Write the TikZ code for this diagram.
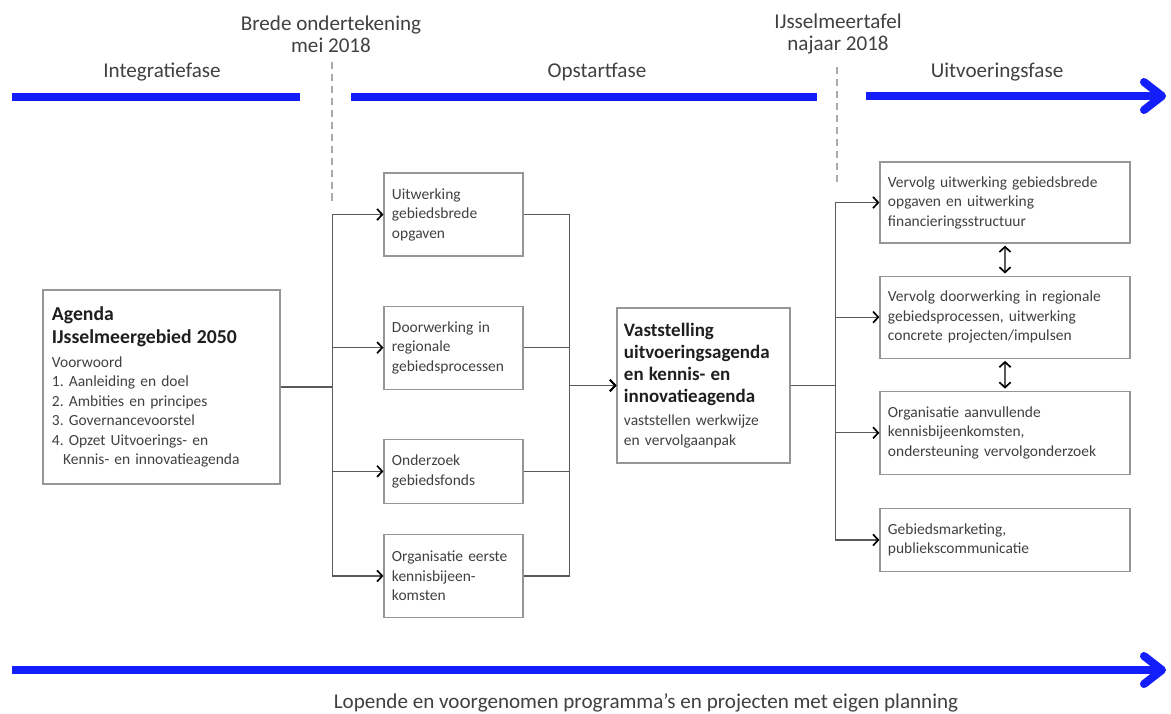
\documentclass[tikz,border=0pt]{standalone}
\usepackage{fontspec}
\setmainfont{Carlito}
\usetikzlibrary{arrows.meta,positioning}
\frenchspacing

\definecolor{phaseblue}{RGB}{20,30,250}
\definecolor{boxgray}{RGB}{150,150,150}
\definecolor{linegray}{RGB}{90,90,90}
\definecolor{textgray}{RGB}{64,64,64}
\definecolor{titlegray}{RGB}{30,30,30}

\begin{document}
\begin{tikzpicture}[
    x=0.025cm, y=-0.025cm,
    >={Straight Barb[length=1.3mm,width=2.8mm,color=black,line width=1.2pt]},
    phase label/.style={font=\fontsize{15}{17}\selectfont, text=textgray},
    event label/.style={font=\fontsize{15}{15.6}\selectfont, text=textgray, align=center},
    phase bar/.style={draw=phaseblue, line width=5.7pt},
    phase tip/.style={-{Straight Barb[length=4.5mm,width=7mm,round]}},
    milestone/.style={draw=boxgray!80, line width=1pt, dash pattern=on 5pt off 3.5pt},
    link/.style={draw=linegray, line width=0.9pt},
    mid box/.style={rectangle, draw=boxgray, line width=0.8pt, text width=3.075cm, inner xsep=0.2cm, align=left, text=textgray, font=\fontsize{11}{13.9}\selectfont},
    right box/.style={mid box, text width=5.85cm},
    agenda box/.style={mid box, text width=5.475cm, inner xsep=0.225cm, minimum height=4.85cm},
    main box/.style={mid box, text width=3.975cm, inner xsep=0.175cm, minimum height=3.875cm}
]
\useasboundingbox (0,0) rectangle (1171,713);

% Phases
\node[phase label] (integratie) at (162,72) {Integratiefase};
\node[phase label] (opstart) at (597,72) {Opstartfase};
\node[phase label] (uitvoering) at (997,72) {Uitvoeringsfase};
\node[event label] (ondertekening) at (331,34) {Brede ondertekening\\mei 2018};
\node[event label] (tafel) at (838,34) {IJsselmeertafel\\najaar 2018};

\draw[phase bar] (12,97) -- (300,97);
\draw[phase bar] (351,97) -- (817,97);
\draw[phase bar, phase tip] (866,96) -- (1166,96);

\draw[milestone] (332,62) -- (332,203);
\draw[milestone] (837,67) -- (837,186);

% Agenda
\node[agenda box] (agenda) at (161.5,387) {{\fontsize{14}{16.4}\selectfont\bfseries\color{titlegray}Agenda\\IJsselmeergebied 2050\par}\vspace{3pt}Voorwoord\\1. Aanleiding en doel\\2. Ambities en principes\\3. Governancevoorstel\\4. Opzet Uitvoerings- en\\\hspace*{8pt}Kennis- en innovatieagenda};

% Opstart
\node[mid box, minimum height=2.075cm] (uitw) at (453.5,214.5) {Uitwerking\\gebiedsbrede\\opgaven};
\node[mid box, minimum height=2.075cm, below=1.225cm of uitw] (doorw) {Doorwerking in\\regionale\\gebiedsprocessen};
\node[mid box, minimum height=1.6cm, below=1.225cm of doorw] (onderz) {Onderzoek\\gebiedsfonds};
\node[mid box, minimum height=2.075cm, below=0.75cm of onderz] (kennis) {Organisatie eerste\\kennisbijeen-\\komsten};

% Vaststelling
\node[main box] (vast) at (703.5,385.5) {{\fontsize{13.5}{15.6}\selectfont\bfseries\color{titlegray}Vaststelling\\uitvoeringsagenda\\en kennis- en\\innovatieagenda\par}\vspace{3pt}vaststellen werkwijze\\en vervolgaanpak};

% Uitvoering
\node[right box, minimum height=2.025cm] (vuitw) at (1005,202.5) {Vervolg uitwerking gebiedsbrede\\opgaven en uitwerking\\financieringsstructuur};
\node[right box, minimum height=2.05cm, below=0.8cm of vuitw] (vdoorw) {Vervolg doorwerking in regionale\\gebiedsprocessen, uitwerking\\concrete projecten/impulsen};
\node[right box, minimum height=2.075cm, below=0.8cm of vdoorw] (vorg) {Organisatie aanvullende\\kennisbijeenkomsten,\\ondersteuning vervolgonderzoek};
\node[right box, minimum height=1.575cm, below=0.825cm of vorg] (marketing) {Gebiedsmarketing,\\publiekscommunicatie};

% Arrows
\foreach \n in {uitw,doorw,onderz,kennis}
    \draw[link,->] (agenda.east) -- ++(1.3cm,0) |- (\n.west);
\foreach \n in {uitw,doorw,onderz,kennis}
    \draw[link,->] (\n.east) -- ++(1.15cm,0) |- (vast.west);
\foreach \n in {vuitw,vdoorw,vorg,marketing}
    \draw[link,->] (vast.east) -- ++(1.125cm,0) |- (\n.west);

\draw[link,<->,shorten <=1.5pt,shorten >=1.5pt] (vuitw) -- (vdoorw);
\draw[link,<->,shorten <=1.5pt,shorten >=1.5pt] (vdoorw) -- (vorg);

% Lopende programma's
\draw[phase bar, phase tip] (12,670) -- (1166,670);
\node[phase label, anchor=base] (lopend) at (646,708) {Lopende en voorgenomen programma's en projecten met eigen planning};

\end{tikzpicture}
\end{document}
